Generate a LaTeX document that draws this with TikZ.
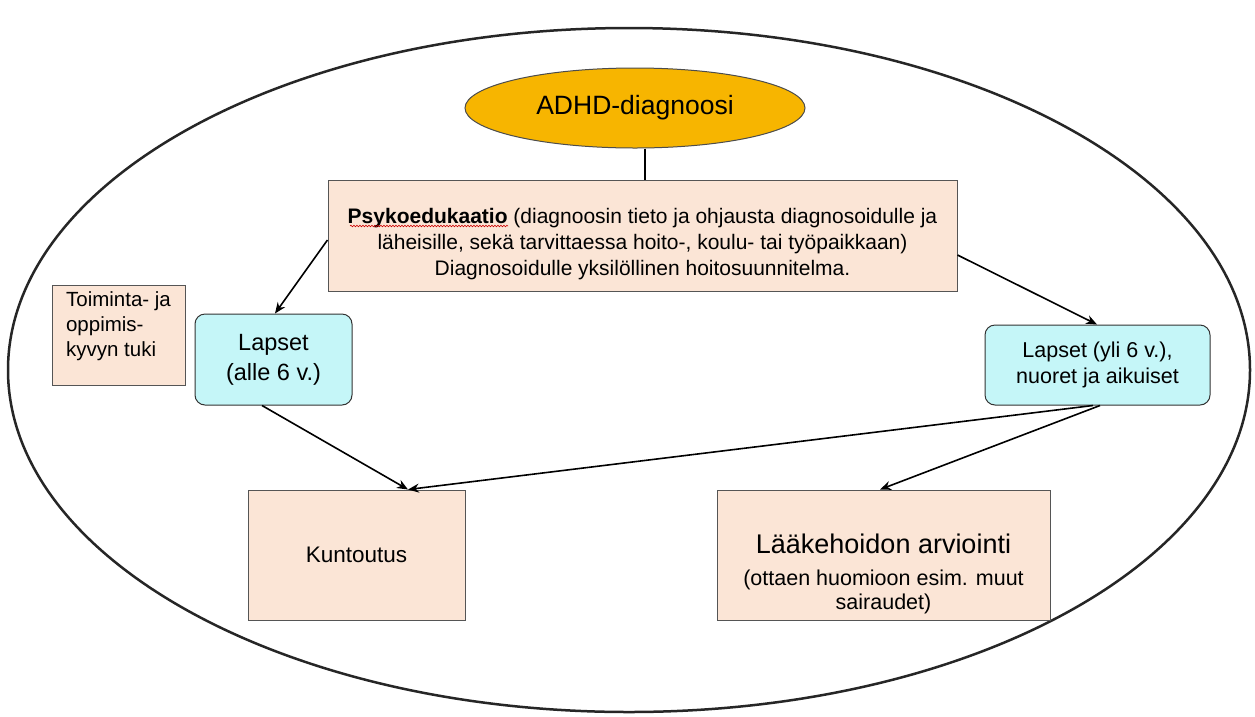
\documentclass[tikz,border=0pt]{standalone}
\usepackage{fontspec}
\setmainfont{Liberation Sans}
\usetikzlibrary{shapes.geometric,arrows.meta,decorations.pathmorphing}
\definecolor{peach}{HTML}{FBE5D6}
\definecolor{cyanbox}{HTML}{C5F6F8}
\definecolor{gold}{HTML}{F7B500}
\definecolor{boxline}{HTML}{555555}
\tikzset{
  peachbox/.style={draw=boxline, line width=1pt, fill=peach, align=center, inner sep=0pt},
  cyanrbox/.style={draw=black!80, line width=1pt, fill=cyanbox, rounded corners=10pt, align=center, inner sep=0pt},
  conn/.style={line width=1.6pt, -{Stealth[length=11pt,width=9pt]}},
}
\begin{document}
\begin{tikzpicture}[x=1pt,y=-1pt]
\useasboundingbox (0,0) rectangle (1255,716);
\fill[white] (0,0) rectangle (1255,716);
% outer ellipse
\node[draw=black!85, line width=2.5pt, ellipse, minimum width=1242pt, minimum height=684pt, inner sep=0pt] (outer) at (629,370) {};
% ADHD
\node[draw=black!70, line width=1pt, fill=gold, ellipse, minimum width=340pt, minimum height=80pt, inner sep=0pt, font=\fontsize{26.5}{30}\selectfont] (adhd) at (635,108) {ADHD-diagnoosi};
% Psykoedukaatio
\node[peachbox, minimum width=629pt, minimum height=111pt, font=\fontsize{21}{26}\selectfont] (psyko) at (642.5,235.5)
 {\rule{0pt}{33pt}\textbf{Psykoedukaatio} (diagnoosin tieto ja ohjausta diagnosoidulle ja\\
  läheisille, sekä tarvittaessa hoito-, koulu- tai työpaikkaan)\\
  Diagnosoidulle yksilöllinen hoitosuunnitelma.};
% Toiminta
\node[peachbox, minimum width=133pt, minimum height=100pt, font=\fontsize{20.5}{25}\selectfont, align=left] (toim) at (118.5,335)
 {Toiminta- ja\\oppimis-\\kyvyn tuki\rule[-21pt]{0pt}{0pt}};
% Lapset
\node[cyanrbox, minimum width=157pt, minimum height=91pt, font=\fontsize{23.5}{30}\selectfont] (lap) at (273.5,359.5)
 {Lapset\\(alle 6 v.)};
\node[cyanrbox, minimum width=225pt, minimum height=80pt, font=\fontsize{21.5}{26}\selectfont] (lapy) at (1097.5,365)
 {Lapset (yli 6 v.),\\nuoret ja aikuiset};
% Kuntoutus
\node[peachbox, minimum width=217pt, minimum height=130pt, font=\fontsize{22.5}{27}\selectfont] (kunt) at (356.5,555) {Kuntoutus};
\node[peachbox, minimum width=333pt, minimum height=130pt, font=\fontsize{21.5}{24}\selectfont] (laake) at (883.5,555)
 {\rule{0pt}{58pt}{\fontsize{27}{32}\selectfont Lääkehoidon arviointi}\\[8pt]
  (ottaen huomioon esim. muut\\
  sairaudet)};
% spell-check underline
\draw[red!80!black, line width=0.6pt, decorate, decoration={snake, amplitude=0.8pt, segment length=3pt}] (350,226) -- (508,226);
% connectors
\draw[line width=1.6pt] (adhd.south -| 645,0) -- (psyko.north -| 645,0);
\draw[conn] (psyko.west |- 0,240) -- (lap.north -| 275,0);
\draw[conn] (psyko.east |- 0,255) -- (lapy.north -| 1097,0);
\draw[conn] (lap.south -| 262,0) -- (kunt.north -| 408,0);
\draw[conn] (lapy.south -| 1093,0) -- (kunt.north -| 408,0);
\draw[conn] (lapy.south -| 1100,0) -- (laake.north -| 880,0);
\end{tikzpicture}
\end{document}
